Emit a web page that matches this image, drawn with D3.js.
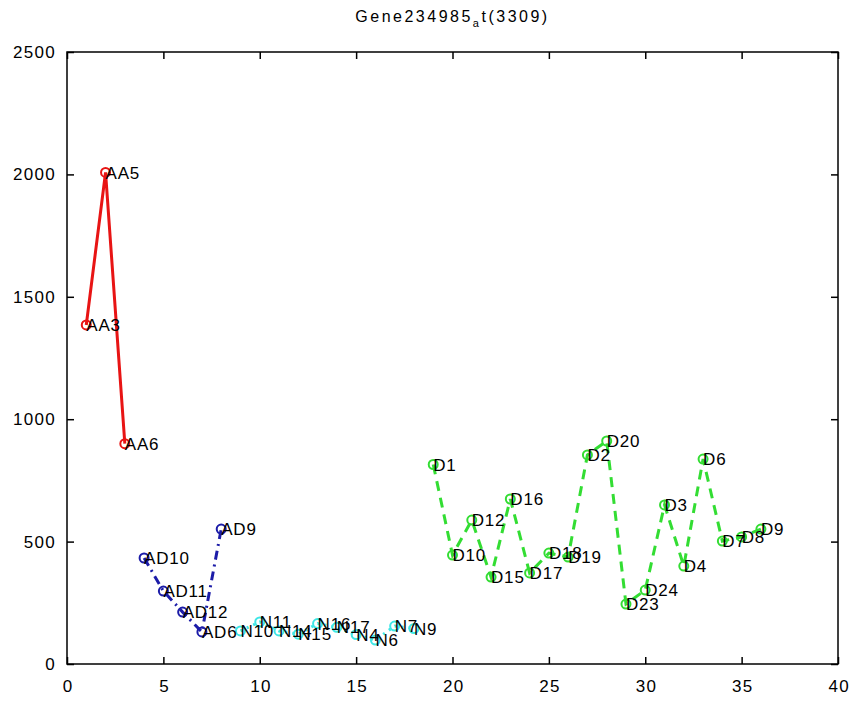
<!DOCTYPE html>
<html>
<head>
<meta charset="utf-8">
<script src="https://cdn.jsdelivr.net/npm/d3@7"></script>
<style>
  body { margin: 0; background: #fff; }
  text { font-family: "Liberation Sans", Arial, sans-serif; }
</style>
</head>
<body>
<div id="chart"></div>
<script>
// groups of samples, x position is the sample index
const aaLabels = ["AA3", "AA5", "AA6"];
const aaValues = [1385, 2008, 900];

const adLabels = ["AD10", "AD11", "AD12", "AD6", "AD9"];
const adValues = [433, 298, 212, 131, 551];

const nLabels = ["N10", "N11", "N14", "N15", "N16", "N17", "N4", "N6", "N7", "N9"];
const nValues = [135, 172, 135, 122, 165, 150, 120, 98, 155, 145];

const dLabels = ["D1", "D10", "D12", "D15", "D16", "D17", "D18", "D19", "D2", "D20",
                 "D23", "D24", "D3", "D4", "D6", "D7", "D8", "D9"];
const dValues = [815, 445, 588, 355, 674, 372, 453, 437, 854, 911,
                 245, 302, 650, 400, 837, 502, 519, 551];

const xTicks = [0, 5, 10, 15, 20, 25, 30, 35, 40];
const yTicks = [0, 500, 1000, 1500, 2000, 2500];

const margin = { top: 52, right: 12, bottom: 40, left: 67 },
      width = 850 - margin.left - margin.right,
      height = 704 - margin.top - margin.bottom;

const svg = d3.select("#chart")
              .append("svg")
              .attr("width", 850)
              .attr("height", 704);

const g = svg.append("g")
             .attr("transform", `translate(${margin.left},${margin.top})`);

const x = d3.scaleLinear().domain([0, 40]).range([0, width]);
const y = d3.scaleLinear().domain([0, 2500]).range([height, 0]);

// build the series, x index runs on across groups
let start = 1;
const groups = [
  { labels: aaLabels, values: aaValues, color: "#e81414", dash: null },
  { labels: adLabels, values: adValues, color: "#1c1ca8", dash: "9,5,2,5" },
  { labels: nLabels,  values: nValues,  color: "#3ee6e6", dash: "2,5" },
  { labels: dLabels,  values: dValues,  color: "#33dd33", dash: "10,7" }
].map(grp => {
  const pts = grp.values.map((v, i) => ({ x: start + i, y: v, label: grp.labels[i] }));
  start += grp.values.length;
  return { ...grp, pts };
});

const line = d3.line().x(d => x(d.x)).y(d => y(d.y));

groups.forEach(grp => {
  g.append("path")
   .datum(grp.pts)
   .attr("d", line)
   .attr("fill", "none")
   .attr("stroke", grp.color)
   .attr("stroke-width", 3)
   .attr("stroke-dasharray", grp.dash);

  g.selectAll(null)
   .data(grp.pts)
   .join("circle")
   .attr("cx", d => x(d.x))
   .attr("cy", d => y(d.y))
   .attr("r", 4.5)
   .attr("fill", "none")
   .attr("stroke", grp.color)
   .attr("stroke-width", 2);
});

groups.forEach(grp => {
  g.selectAll(null)
   .data(grp.pts)
   .join("text")
   .attr("x", d => x(d.x))
   .attr("y", d => y(d.y))
   .attr("dy", "0.36em")
   .attr("font-size", 17)
   .attr("letter-spacing", 0.8)
   .attr("fill", "#000")
   .text(d => d.label);
});

// box and ticks on all sides
g.append("rect")
 .attr("width", width)
 .attr("height", height)
 .attr("fill", "none")
 .attr("stroke", "#000")
 .attr("stroke-width", 1.5);

const fmt = d3.format("d");
const xAxis = g.append("g")
               .attr("transform", `translate(0,${height})`)
               .call(d3.axisBottom(x).tickValues(xTicks).tickFormat(fmt).tickSizeInner(-7).tickSizeOuter(0).tickPadding(16));
const xTop = g.append("g")
              .call(d3.axisTop(x).tickValues(xTicks).tickSizeInner(-7).tickSizeOuter(0).tickFormat(""));
const yAxis = g.append("g")
               .call(d3.axisLeft(y).tickValues(yTicks).tickFormat(fmt).tickSizeInner(-7).tickSizeOuter(0).tickPadding(11));
const yRight = g.append("g")
                .attr("transform", `translate(${width},0)`)
                .call(d3.axisRight(y).tickValues(yTicks).tickSizeInner(-7).tickSizeOuter(0).tickFormat(""));

[xAxis, xTop, yAxis, yRight].forEach(a => {
  a.select(".domain").remove();
  a.selectAll("line").attr("stroke", "#000").attr("stroke-width", 1.5);
  a.selectAll("text")
   .attr("font-size", 17)
   .attr("letter-spacing", 1.3)
   .attr("font-family", "'Liberation Sans', Arial, sans-serif")
   .attr("fill", "#000");
});
xAxis.selectAll("text").attr("dx", 0.7);

// title, TeX style subscript
const title = svg.append("text")
                 .attr("x", margin.left + width / 2)
                 .attr("y", 22)
                 .attr("text-anchor", "middle")
                 .attr("font-size", 16)
                 .attr("letter-spacing", 2.5)
                 .attr("fill", "#000");
title.append("tspan").text("Gene234985");
title.append("tspan").attr("dy", 5).attr("font-size", 11).text("a");
title.append("tspan").attr("dy", -5).text("t(3309)");
</script>
</body>
</html>
